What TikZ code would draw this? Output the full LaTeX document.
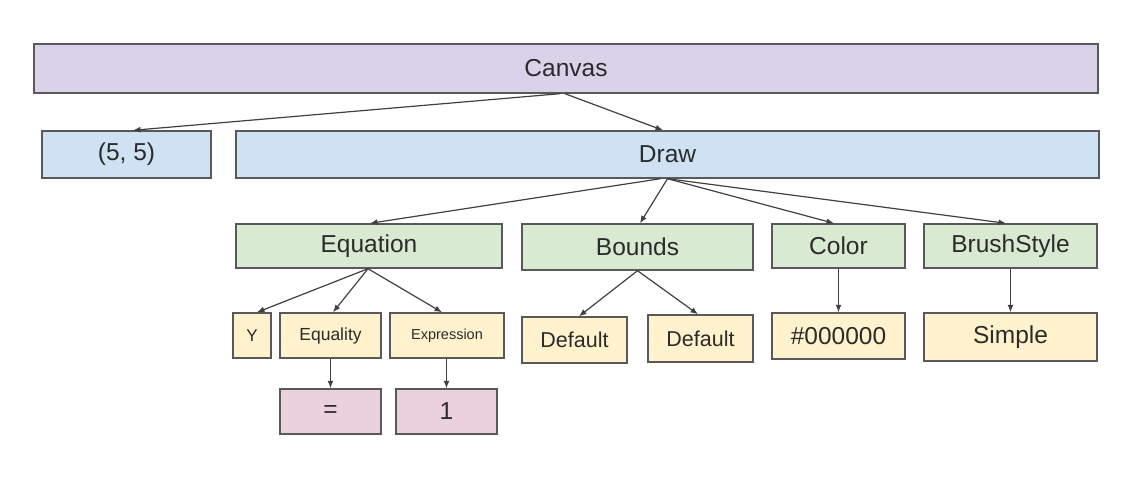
\documentclass[tikz,border=0pt]{standalone}
\usepackage{fontspec}
\setmainfont{Liberation Sans}
\usetikzlibrary{arrows.meta}
\definecolor{cpurple}{HTML}{D9D2E9}
\definecolor{cblue}{HTML}{CFE2F3}
\definecolor{cgreen}{HTML}{D9EAD3}
\definecolor{cyellow}{HTML}{FFF2CC}
\definecolor{cpink}{HTML}{EAD1DC}
\definecolor{cborder}{HTML}{595959}
\definecolor{ctext}{HTML}{2B2B2B}
\definecolor{carrow}{HTML}{404040}
\tikzset{
  box/.style={draw=cborder, line width=1.4pt, rectangle, inner sep=0pt, text=ctext, anchor=center,
    font=\fontsize{24.5}{29}\selectfont},
  conn/.style={draw=carrow, line width=1.2pt, -{Latex[length=7.5pt,width=6pt]}},
}
\begin{document}
\begin{tikzpicture}[x=1pt,y=-1pt]
\useasboundingbox (0,0) rectangle (1132,478);
% level 0
\node[box, fill=cpurple, minimum width=1064pt, minimum height=49pt] (canvas) at (566,68.5) {Canvas};
% level 1
\node[box, fill=cblue, minimum width=169pt, minimum height=47pt] (p55) at (126.5,154.5) {(5, 5)};
\node[box, fill=cblue, minimum width=863pt, minimum height=47pt] (draw) at (667.5,154.5) {Draw};
% level 2
\node[box, fill=cgreen, minimum width=266pt, minimum height=44pt] (equation) at (369,246) {Equation};
\node[box, fill=cgreen, minimum width=231pt, minimum height=46pt] (bounds) at (637.5,247) {Bounds};
\node[box, fill=cgreen, minimum width=133pt, minimum height=44pt] (color) at (838.5,246) {Color};
\node[box, fill=cgreen, minimum width=173pt, minimum height=44pt] (brush) at (1010.5,246) {BrushStyle};
% level 3
\node[box, fill=cyellow, minimum width=38pt, minimum height=45pt, font=\fontsize{17}{20}\selectfont] (y) at (252,335.5) {Y};
\node[box, fill=cyellow, minimum width=101pt, minimum height=45pt, font=\fontsize{17.5}{20}\selectfont] (equality) at (330.5,335.5) {Equality};
\node[box, fill=cyellow, minimum width=114pt, minimum height=45pt, font=\fontsize{14.5}{17}\selectfont] (expression) at (447,335.5) {Expression};
\node[box, fill=cyellow, minimum width=105pt, minimum height=46pt, font=\fontsize{21.5}{25}\selectfont] (def1) at (574.5,340) {Default};
\node[box, fill=cyellow, minimum width=105pt, minimum height=47pt, font=\fontsize{21.5}{25}\selectfont] (def2) at (700.5,338.5) {Default};
\node[box, fill=cyellow, minimum width=133pt, minimum height=46pt] (hex) at (838.5,336) {\#000000};
\node[box, fill=cyellow, minimum width=173pt, minimum height=48pt] (simple) at (1010.5,337) {Simple};
% level 4
\node[box, fill=cpink, minimum width=101pt, minimum height=45pt] (eq) at (330.5,411.5) {=};
\node[box, fill=cpink, minimum width=101pt, minimum height=45pt] (one) at (446.5,411.5) {1};
% connectors
\draw[conn] ([xshift=-6pt]canvas.south) -- ([xshift=6.5pt]p55.north);
\draw[conn] ([xshift=-1pt]canvas.south) -- ([xshift=-4.5pt]draw.north);
\draw[conn] ([xshift=-7pt]draw.south) -- ([xshift=1pt]equation.north);
\draw[conn] ([xshift=0pt]draw.south) -- ([xshift=2.5pt]bounds.north);
\draw[conn] ([xshift=0pt]draw.south) -- ([xshift=-4.5pt]color.north);
\draw[conn] ([xshift=0pt]draw.south) -- ([xshift=-4.5pt]brush.north);
\draw[conn] ([xshift=-1pt]equation.south) -- ([xshift=5pt]y.north);
\draw[conn] ([xshift=-1pt]equation.south) -- ([xshift=2.5pt]equality.north);
\draw[conn] ([xshift=-1pt]equation.south) -- ([xshift=-5pt]expression.north);
\draw[conn] (equality.south) -- (eq.north);
\draw[conn] (one.north |- expression.south) -- (one.north);
\draw[conn] (bounds.south) -- ([xshift=4.5pt]def1.north);
\draw[conn] (bounds.south) -- ([xshift=-2.5pt]def2.north);
\draw[conn] (color.south) -- (hex.north);
\draw[conn] (brush.south) -- (simple.north);
\end{tikzpicture}
\end{document}
